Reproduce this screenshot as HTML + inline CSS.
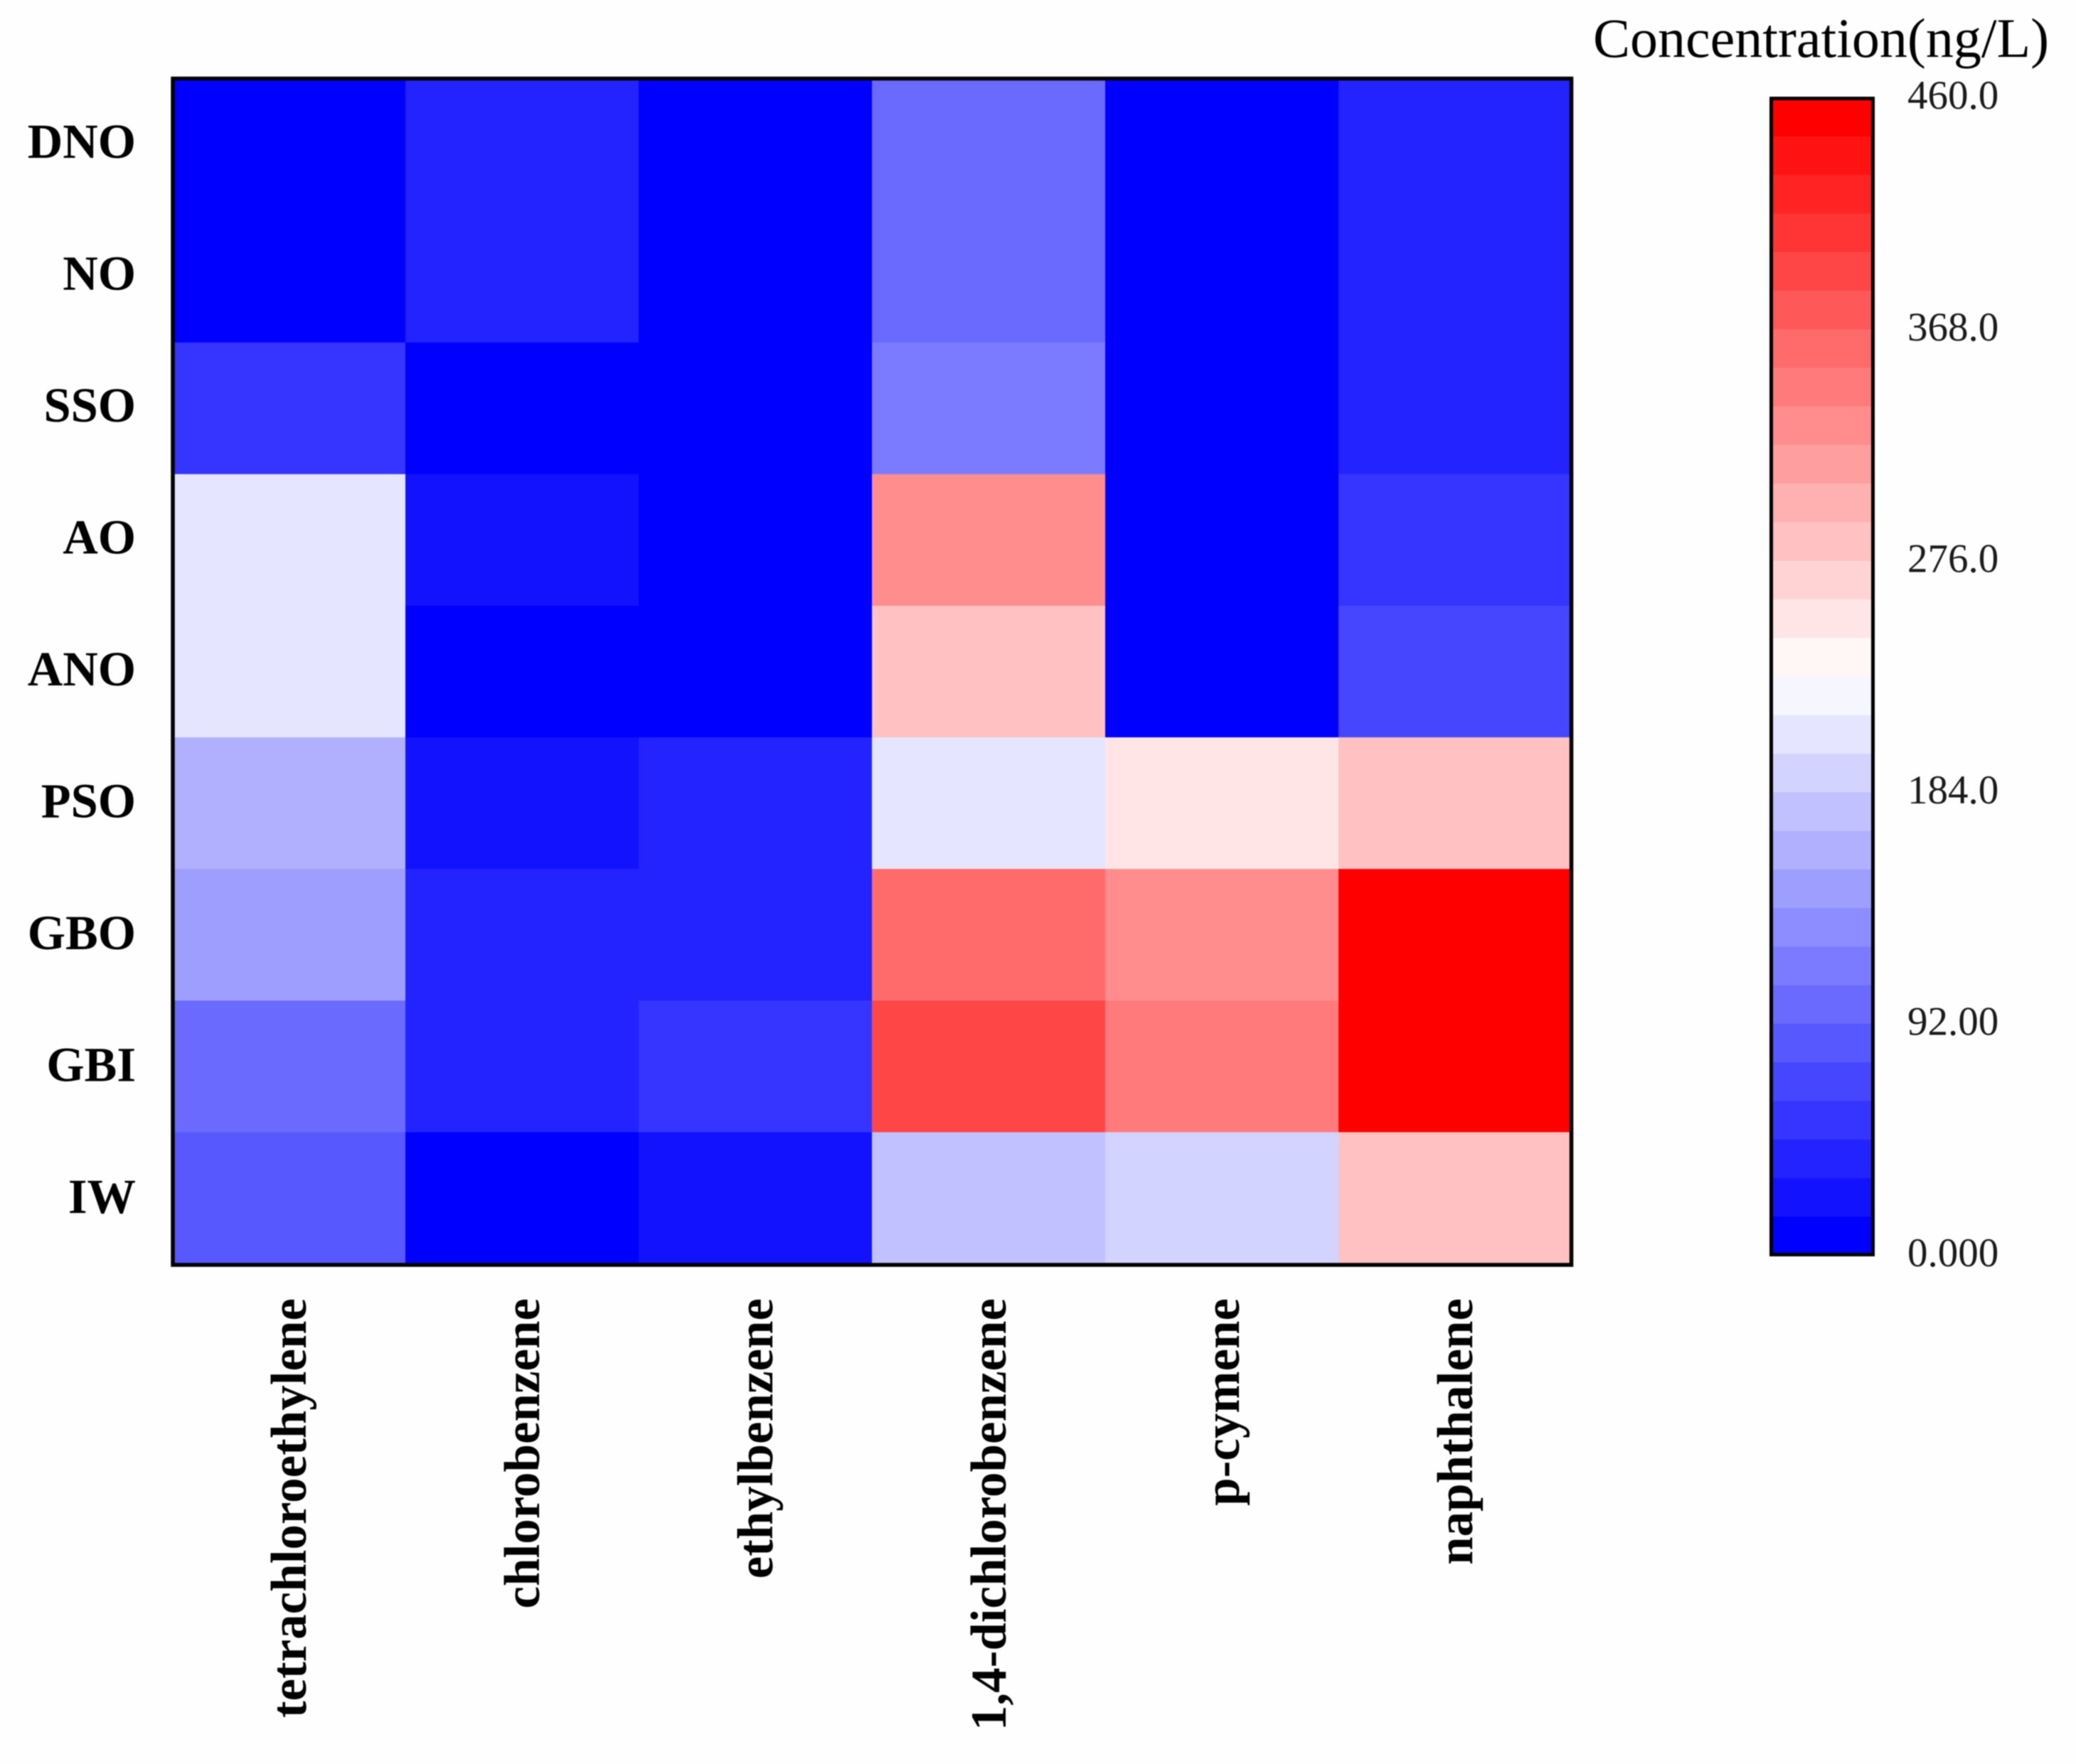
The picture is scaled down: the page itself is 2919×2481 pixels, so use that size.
<!DOCTYPE html>
<html lang="en">
<head>
<meta charset="utf-8">
<title>Concentration heatmap</title>
<style>
html,body{margin:0;padding:0;background:#fefefe;}
svg{display:block;filter:blur(0.8px);}
text{font-family:"Liberation Serif",serif;fill:#000;}
.yl{font-weight:bold;font-size:68.5px;}
.xl{font-weight:bold;font-size:71px;}
.t{font-size:57px;fill:#1a1a1a;}
</style>
</head>
<body>
<svg id="chart" xmlns="http://www.w3.org/2000/svg" width="2919" height="2481" viewBox="0 0 2919 2481">
<rect x="0" y="0" width="2919" height="2481" fill="#fefefe"/>
<g id="cells"></g>
<g id="ylabels"></g>
<g id="xlabels"></g>
<g id="bands"></g>
<g id="cticks"></g>
<rect x="243" y="110.5" width="1966.5" height="1668.5" fill="none" stroke="#000" stroke-width="5.5"/>
<rect x="2490.5" y="138.5" width="143" height="1626" fill="none" stroke="#000" stroke-width="5"/>
<text x="2240" y="80" font-size="78">Concentration(ng/L)</text>
</svg>
<script>
const rowNames = ["DNO","NO","SSO","AO","ANO","PSO","GBO","GBI","IW"];
const colNames = ["tetrachloroethylene","chlorobenzene","ethylbenzene","1,4-dichlorobenzene","p-cymene","naphthalene"];
const seriesTetrachloroethylene = [3,3,52,205,205,160,145,100,85];
const seriesChlorobenzene = [38,38,3,22,3,22,38,38,3];
const seriesEthylbenzene = [3,3,3,3,3,38,38,52,22];
const seriesDichlorobenzene = [100,100,115,330,285,205,360,390,175];
const seriesCymene = [3,3,3,3,3,255,330,345,190];
const seriesNaphthalene = [38,38,38,52,70,285,455,455,285];
const colorbarTickValues = [460,368,276,184,92,0];
const colorbarTickLabels = ["460.0","368.0","276.0","184.0","92.00","0.000"];
const scaleMax = 460;
const bandCount = 30;

const NS = "http://www.w3.org/2000/svg";
const allSeries = [seriesTetrachloroethylene,seriesChlorobenzene,seriesEthylbenzene,seriesDichlorobenzene,seriesCymene,seriesNaphthalene];
const plot = {x0:242,x1:2210,y0:111.5,y1:1777.5};
const bar = {x0:2493,x1:2632,y0:137,y1:1765};
const colW = (plot.x1-plot.x0)/colNames.length;
const rowH = (plot.y1-plot.y0)/rowNames.length;
function xCol(i){return plot.x0+i*colW;}
function yRow(j){return plot.y0+j*rowH;}
function yLabel(j){return 221.8+j*185.5;}
function yBarTick(v){return 1781.2-(v/scaleMax)*1628;}
function yBand(v){return bar.y1-(v/scaleMax)*(bar.y1-bar.y0);}
function bandOf(v){return Math.min(bandCount-1,Math.max(0,Math.floor(v/scaleMax*bandCount)));}
function bandColor(k){
  const t=k/(bandCount-1);
  if(t<0.5){const c=Math.round(510*t);return "rgb("+c+","+c+",255)";}
  const c=Math.round(510*(1-t));return "rgb(255,"+c+","+c+")";
}
function make(tag,parent,attrs){
  const e=document.createElementNS(NS,tag);
  for(const k in attrs)e.setAttribute(k,attrs[k]);
  parent.appendChild(e);
  return e;
}
const cellsG=document.getElementById("cells");
allSeries.forEach(function(series,i){
  series.forEach(function(v,j){
    const r=make("rect",cellsG,{x:xCol(i),y:yRow(j),width:colW+0.5,height:rowH+0.5,fill:bandColor(bandOf(v))});
    
    
  });
});
const yG=document.getElementById("ylabels");
rowNames.forEach(function(name,j){
  const t=make("text",yG,{x:191,y:yLabel(j),"text-anchor":"end","class":"yl"});
  
  
  t.textContent=name;
});
const xG=document.getElementById("xlabels");
colNames.forEach(function(name,i){
  const px=xCol(i)+colW/2+24;
  const t=make("text",xG,{x:px,y:1826,"text-anchor":"end","class":"xl",transform:"rotate(-90 "+px+" 1826)"});
  
  
  t.textContent=name;
});
const bandG=document.getElementById("bands");
for(let k=0;k<bandCount;k++){
  const lo=k*scaleMax/bandCount, hi=(k+1)*scaleMax/bandCount;
  const r=make("rect",bandG,{x:bar.x0,y:yBand(hi),width:bar.x1-bar.x0,height:yBand(lo)-yBand(hi)+0.5,fill:bandColor(k)});
  
  
}
const tickG=document.getElementById("cticks");
colorbarTickValues.forEach(function(v,i){
  const t=make("text",tickG,{x:2682,y:yBarTick(v),"class":"t"});
  
  
  t.textContent=colorbarTickLabels[i];
});
</script>
</body>
</html>
